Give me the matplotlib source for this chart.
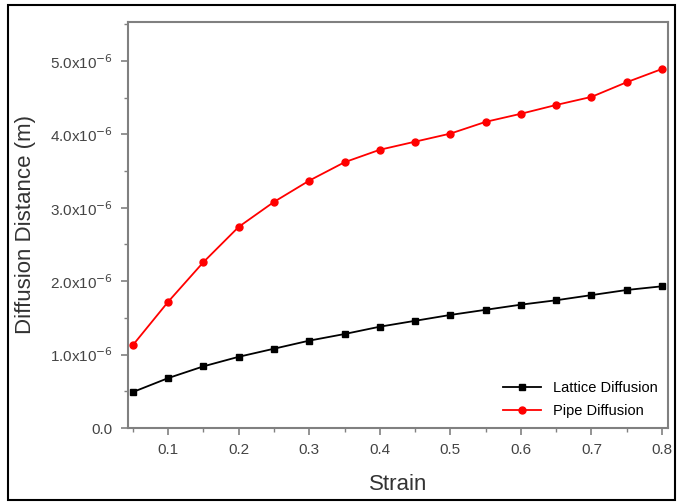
import matplotlib
matplotlib.use("Agg")
import matplotlib.pyplot as plt
from matplotlib.patches import Rectangle
from matplotlib.ticker import FixedLocator, MultipleLocator

plt.rcParams['font.family'] = ['Liberation Sans', 'DejaVu Sans']

strain = [0.05, 0.10, 0.15, 0.20, 0.25, 0.30, 0.35, 0.40, 0.45, 0.50, 0.55, 0.60, 0.65, 0.70, 0.75, 0.80]
lattice = [0.49, 0.68, 0.84, 0.97, 1.08, 1.19, 1.28, 1.38, 1.46, 1.54, 1.61, 1.68, 1.74, 1.81, 1.88, 1.93]
pipe = [1.13, 1.72, 2.26, 2.74, 3.08, 3.37, 3.62, 3.79, 3.90, 4.01, 4.17, 4.28, 4.40, 4.51, 4.71, 4.89]
xticks = [0.1, 0.2, 0.3, 0.4, 0.5, 0.6, 0.7, 0.8]
yticks = [0, 1, 2, 3, 4, 5]
ylabels = ["0.0", r"1.0x10$^{-6}$", r"2.0x10$^{-6}$", r"3.0x10$^{-6}$", r"4.0x10$^{-6}$", r"5.0x10$^{-6}$"]

W, H = 678, 503
fig = plt.figure(figsize=(W/100, H/100), dpi=100)
ax = fig.add_axes([128/W, 1-428/H, 540/W, 406/H])

ax.plot(strain, lattice, color='black', marker='s', markersize=5, lw=1.3, label='Lattice Diffusion')
ax.plot(strain, pipe, color='red', marker='o', markersize=5, lw=1.3, label='Pipe Diffusion')

ax.set_xlim(0.043, 0.8085)
ax.set_ylim(0, 5.53)
ax.xaxis.set_major_locator(FixedLocator(xticks))
ax.xaxis.set_minor_locator(MultipleLocator(0.05))
ax.set_xticklabels([f"{v:.1f}" for v in xticks])
ax.yaxis.set_major_locator(FixedLocator(yticks))
ax.yaxis.set_minor_locator(MultipleLocator(0.5))
ax.set_yticklabels(ylabels)

for s in ax.spines.values():
    s.set_color('#808080')
    s.set_linewidth(1.5)
ax.tick_params(which='both', direction='out', color='#808080', labelcolor='#444444', labelsize=11)
ax.tick_params(which='major', length=5, width=1.2, pad=6)
ax.tick_params(which='minor', length=3, width=1)

ax.set_xlabel('Strain', fontsize=16, color='#333333', labelpad=12)
ax.set_ylabel('Diffusion Distance (m)', fontsize=16, color='#333333', labelpad=10)

ax.legend(loc='lower right', frameon=False, fontsize=10.5, handlelength=2.6,
          borderaxespad=0.3, labelspacing=0.6, bbox_to_anchor=(1.0, 0.0))

fig.patches.append(Rectangle((8/W, 1-500/H), 667/W, 495/H, transform=fig.transFigure,
                             fill=False, edgecolor='black', lw=1.5))

fig.savefig('out.png', dpi=100)
